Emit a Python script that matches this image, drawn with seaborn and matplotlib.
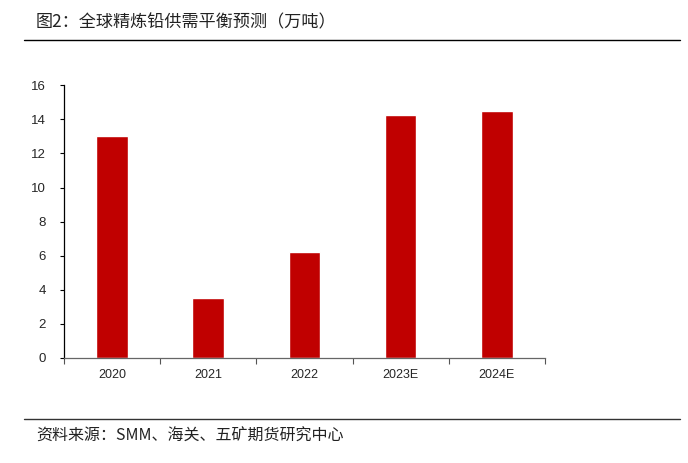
import numpy as np
import pandas as pd
import seaborn as sb
import matplotlib.pyplot as plt
from matplotlib.lines import Line2D

# 全球精炼铅供需平衡预测（万吨）
years = ['2020', '2021', '2022', '2023E', '2024E']
balance = [13.0, 3.5, 6.2, 14.25, 14.5]

df = pd.DataFrame({'year': years, 'balance': balance})

sb.set_style('white')
plt.rcParams['font.family'] = ['Noto Sans CJK SC', 'DejaVu Sans']

fig = plt.figure(figsize=(6.88, 4.63), dpi=100)
ax = fig.add_axes([0.093, 0.2275, 0.699, 0.5880])

sb.barplot(data=df, x='year', y='balance', color='#C00000', width=0.33,
           saturation=1, ax=ax)

ax.set_ylim(0, 16)
ax.set_yticks(np.arange(0, 17, 2))
ax.set_xlim(-0.5, len(years) - 0.5)
ax.set_xlabel('')
ax.set_ylabel('')

# ticks between categories
ax.set_xticks(np.arange(-0.5, len(years), 1), minor=True)
ax.tick_params(axis='x', which='major', length=0, pad=8,
               labelsize=9, labelfontfamily='Liberation Sans')
ax.tick_params(axis='x', which='minor', length=4, direction='out',
               color='#555555', width=0.8, bottom=True)
ax.tick_params(axis='y', length=3, direction='out', width=0.8,
               color='black', left=True, labelsize=9.5,
               labelfontfamily='Liberation Sans', pad=10)

for s in ['top', 'right']:
    ax.spines[s].set_visible(False)
ax.spines['left'].set_color('black')
ax.spines['left'].set_linewidth(0.9)
ax.spines['bottom'].set_color('#666666')
ax.spines['bottom'].set_linewidth(0.9)

fig.text(0.052, 0.952, '图2：全球精炼铅供需平衡预测（万吨）', fontsize=12.3,
         va='center', ha='left', color='#222222')
fig.add_artist(Line2D([0.035, 0.988], [0.913, 0.913], color='black', lw=1.0))
fig.add_artist(Line2D([0.035, 0.988], [0.095, 0.095], color='#333333', lw=1.0))
fig.text(0.052, 0.057, '资料来源：SMM、海关、五矿期货研究中心', fontsize=11.5,
         va='center', ha='left', color='#222222')

plt.savefig('out.png', dpi=100)
